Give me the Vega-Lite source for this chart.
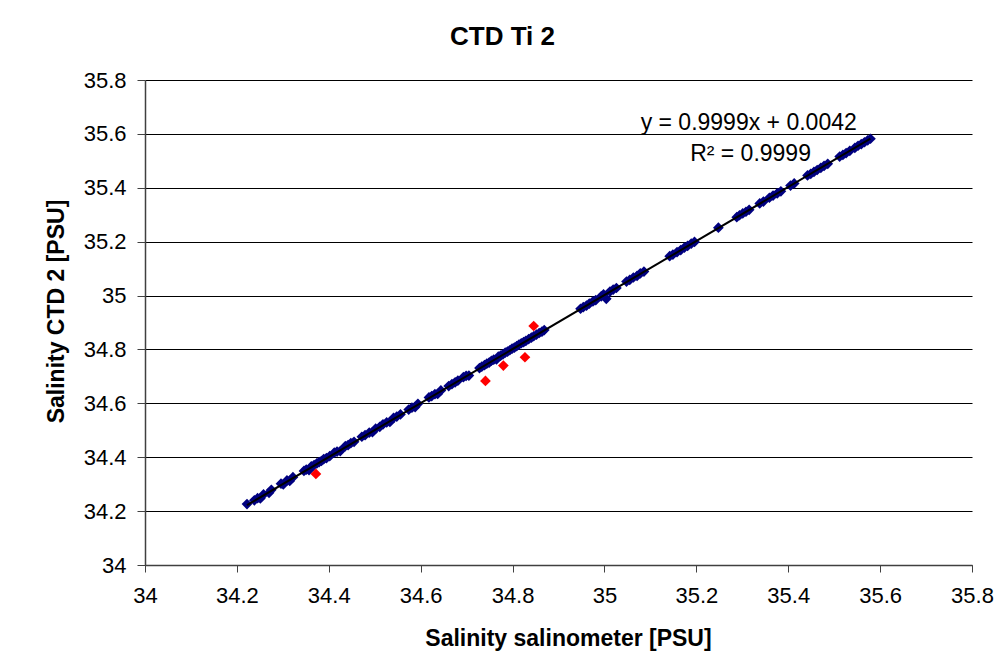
{
  "$schema": "https://vega.github.io/schema/vega-lite/v6.json",
  "autosize": {"type": "none"},
  "width": 827,
  "height": 485,
  "padding": {"left": 145, "top": 80, "right": 27, "bottom": 91},
  "background": "white",
  "config": {
    "view": {"stroke": null},
    "font": "Liberation Sans",
    "axis": {"labelFont": "Liberation Sans", "titleFont": "Liberation Sans", "labelColor": "black", "titleColor": "black"}
  },
  "title": {"text": "CTD Ti 2", "fontSize": 26, "fontWeight": "bold", "font": "Liberation Sans", "color": "black", "anchor": "middle", "dx": -56, "offset": 19},
  "datasets": {
    "pts": [
      {"sal": 34.222, "ctd": 34.226, "s": "a"},
      {"sal": 34.238, "ctd": 34.240, "s": "a"},
      {"sal": 34.245, "ctd": 34.248, "s": "a"},
      {"sal": 34.251, "ctd": 34.247, "s": "a"},
      {"sal": 34.258, "ctd": 34.262, "s": "a"},
      {"sal": 34.270, "ctd": 34.268, "s": "a"},
      {"sal": 34.275, "ctd": 34.279, "s": "a"},
      {"sal": 34.296, "ctd": 34.302, "s": "a"},
      {"sal": 34.301, "ctd": 34.299, "s": "a"},
      {"sal": 34.309, "ctd": 34.314, "s": "a"},
      {"sal": 34.315, "ctd": 34.312, "s": "a"},
      {"sal": 34.322, "ctd": 34.326, "s": "a"},
      {"sal": 34.346, "ctd": 34.349, "s": "a"},
      {"sal": 34.351, "ctd": 34.354, "s": "a"},
      {"sal": 34.357, "ctd": 34.352, "s": "a"},
      {"sal": 34.362, "ctd": 34.366, "s": "a"},
      {"sal": 34.368, "ctd": 34.371, "s": "a"},
      {"sal": 34.374, "ctd": 34.377, "s": "a"},
      {"sal": 34.379, "ctd": 34.382, "s": "a"},
      {"sal": 34.384, "ctd": 34.386, "s": "a"},
      {"sal": 34.389, "ctd": 34.393, "s": "a"},
      {"sal": 34.395, "ctd": 34.397, "s": "a"},
      {"sal": 34.402, "ctd": 34.404, "s": "a"},
      {"sal": 34.412, "ctd": 34.417, "s": "a"},
      {"sal": 34.418, "ctd": 34.421, "s": "a"},
      {"sal": 34.425, "ctd": 34.423, "s": "a"},
      {"sal": 34.436, "ctd": 34.441, "s": "a"},
      {"sal": 34.442, "ctd": 34.445, "s": "a"},
      {"sal": 34.448, "ctd": 34.452, "s": "a"},
      {"sal": 34.455, "ctd": 34.457, "s": "a"},
      {"sal": 34.472, "ctd": 34.476, "s": "a"},
      {"sal": 34.479, "ctd": 34.482, "s": "a"},
      {"sal": 34.488, "ctd": 34.491, "s": "a"},
      {"sal": 34.495, "ctd": 34.493, "s": "a"},
      {"sal": 34.502, "ctd": 34.506, "s": "a"},
      {"sal": 34.511, "ctd": 34.513, "s": "a"},
      {"sal": 34.518, "ctd": 34.522, "s": "a"},
      {"sal": 34.526, "ctd": 34.529, "s": "a"},
      {"sal": 34.533, "ctd": 34.531, "s": "a"},
      {"sal": 34.541, "ctd": 34.546, "s": "a"},
      {"sal": 34.548, "ctd": 34.551, "s": "a"},
      {"sal": 34.556, "ctd": 34.559, "s": "a"},
      {"sal": 34.574, "ctd": 34.577, "s": "a"},
      {"sal": 34.581, "ctd": 34.584, "s": "a"},
      {"sal": 34.588, "ctd": 34.586, "s": "a"},
      {"sal": 34.594, "ctd": 34.598, "s": "a"},
      {"sal": 34.618, "ctd": 34.622, "s": "a"},
      {"sal": 34.624, "ctd": 34.627, "s": "a"},
      {"sal": 34.631, "ctd": 34.634, "s": "a"},
      {"sal": 34.637, "ctd": 34.635, "s": "a"},
      {"sal": 34.644, "ctd": 34.648, "s": "a"},
      {"sal": 34.661, "ctd": 34.664, "s": "a"},
      {"sal": 34.668, "ctd": 34.671, "s": "a"},
      {"sal": 34.675, "ctd": 34.678, "s": "a"},
      {"sal": 34.681, "ctd": 34.684, "s": "a"},
      {"sal": 34.693, "ctd": 34.697, "s": "a"},
      {"sal": 34.699, "ctd": 34.702, "s": "a"},
      {"sal": 34.705, "ctd": 34.703, "s": "a"},
      {"sal": 34.728, "ctd": 34.731, "s": "a"},
      {"sal": 34.733, "ctd": 34.736, "s": "a"},
      {"sal": 34.739, "ctd": 34.742, "s": "a"},
      {"sal": 34.744, "ctd": 34.747, "s": "a"},
      {"sal": 34.749, "ctd": 34.751, "s": "a"},
      {"sal": 34.754, "ctd": 34.758, "s": "a"},
      {"sal": 34.759, "ctd": 34.762, "s": "a"},
      {"sal": 34.765, "ctd": 34.763, "s": "a"},
      {"sal": 34.769, "ctd": 34.773, "s": "a"},
      {"sal": 34.774, "ctd": 34.777, "s": "a"},
      {"sal": 34.779, "ctd": 34.782, "s": "a"},
      {"sal": 34.784, "ctd": 34.788, "s": "a"},
      {"sal": 34.789, "ctd": 34.792, "s": "a"},
      {"sal": 34.794, "ctd": 34.797, "s": "a"},
      {"sal": 34.799, "ctd": 34.803, "s": "a"},
      {"sal": 34.804, "ctd": 34.807, "s": "a"},
      {"sal": 34.809, "ctd": 34.812, "s": "a"},
      {"sal": 34.814, "ctd": 34.818, "s": "a"},
      {"sal": 34.819, "ctd": 34.823, "s": "a"},
      {"sal": 34.824, "ctd": 34.827, "s": "a"},
      {"sal": 34.829, "ctd": 34.832, "s": "a"},
      {"sal": 34.835, "ctd": 34.838, "s": "a"},
      {"sal": 34.841, "ctd": 34.844, "s": "a"},
      {"sal": 34.846, "ctd": 34.849, "s": "a"},
      {"sal": 34.852, "ctd": 34.855, "s": "a"},
      {"sal": 34.858, "ctd": 34.861, "s": "a"},
      {"sal": 34.864, "ctd": 34.866, "s": "a"},
      {"sal": 34.869, "ctd": 34.872, "s": "a"},
      {"sal": 34.948, "ctd": 34.951, "s": "a"},
      {"sal": 34.954, "ctd": 34.957, "s": "a"},
      {"sal": 34.961, "ctd": 34.963, "s": "a"},
      {"sal": 34.967, "ctd": 34.970, "s": "a"},
      {"sal": 34.975, "ctd": 34.978, "s": "a"},
      {"sal": 34.981, "ctd": 34.983, "s": "a"},
      {"sal": 34.993, "ctd": 34.997, "s": "a"},
      {"sal": 34.998, "ctd": 35.004, "s": "a"},
      {"sal": 35.004, "ctd": 34.988, "s": "a"},
      {"sal": 35.012, "ctd": 35.015, "s": "a"},
      {"sal": 35.019, "ctd": 35.022, "s": "a"},
      {"sal": 35.026, "ctd": 35.028, "s": "a"},
      {"sal": 35.048, "ctd": 35.052, "s": "a"},
      {"sal": 35.055, "ctd": 35.058, "s": "a"},
      {"sal": 35.063, "ctd": 35.067, "s": "a"},
      {"sal": 35.071, "ctd": 35.073, "s": "a"},
      {"sal": 35.078, "ctd": 35.082, "s": "a"},
      {"sal": 35.086, "ctd": 35.089, "s": "a"},
      {"sal": 35.142, "ctd": 35.146, "s": "a"},
      {"sal": 35.149, "ctd": 35.152, "s": "a"},
      {"sal": 35.158, "ctd": 35.161, "s": "a"},
      {"sal": 35.166, "ctd": 35.169, "s": "a"},
      {"sal": 35.174, "ctd": 35.178, "s": "a"},
      {"sal": 35.181, "ctd": 35.184, "s": "a"},
      {"sal": 35.189, "ctd": 35.193, "s": "a"},
      {"sal": 35.196, "ctd": 35.199, "s": "a"},
      {"sal": 35.248, "ctd": 35.252, "s": "a"},
      {"sal": 35.288, "ctd": 35.291, "s": "a"},
      {"sal": 35.294, "ctd": 35.298, "s": "a"},
      {"sal": 35.301, "ctd": 35.305, "s": "a"},
      {"sal": 35.308, "ctd": 35.311, "s": "a"},
      {"sal": 35.315, "ctd": 35.318, "s": "a"},
      {"sal": 35.338, "ctd": 35.342, "s": "a"},
      {"sal": 35.346, "ctd": 35.349, "s": "a"},
      {"sal": 35.359, "ctd": 35.363, "s": "a"},
      {"sal": 35.367, "ctd": 35.371, "s": "a"},
      {"sal": 35.376, "ctd": 35.379, "s": "a"},
      {"sal": 35.384, "ctd": 35.387, "s": "a"},
      {"sal": 35.405, "ctd": 35.408, "s": "a"},
      {"sal": 35.413, "ctd": 35.416, "s": "a"},
      {"sal": 35.442, "ctd": 35.446, "s": "a"},
      {"sal": 35.449, "ctd": 35.452, "s": "a"},
      {"sal": 35.456, "ctd": 35.459, "s": "a"},
      {"sal": 35.463, "ctd": 35.466, "s": "a"},
      {"sal": 35.471, "ctd": 35.474, "s": "a"},
      {"sal": 35.478, "ctd": 35.481, "s": "a"},
      {"sal": 35.486, "ctd": 35.489, "s": "a"},
      {"sal": 35.512, "ctd": 35.516, "s": "a"},
      {"sal": 35.519, "ctd": 35.522, "s": "a"},
      {"sal": 35.526, "ctd": 35.529, "s": "a"},
      {"sal": 35.534, "ctd": 35.537, "s": "a"},
      {"sal": 35.545, "ctd": 35.548, "s": "a"},
      {"sal": 35.552, "ctd": 35.556, "s": "a"},
      {"sal": 35.559, "ctd": 35.562, "s": "a"},
      {"sal": 35.566, "ctd": 35.569, "s": "a"},
      {"sal": 35.573, "ctd": 35.576, "s": "a"},
      {"sal": 35.579, "ctd": 35.582, "s": "a"},
      {"sal": 34.372, "ctd": 34.338, "s": "b"},
      {"sal": 34.741, "ctd": 34.683, "s": "b"},
      {"sal": 34.780, "ctd": 34.740, "s": "b"},
      {"sal": 34.827, "ctd": 34.771, "s": "b"},
      {"sal": 34.846, "ctd": 34.887, "s": "b"}
    ],
    "notes": [
      {"sal": 35.314, "ctd": 35.642, "label": "y = 0.9999x + 0.0042"},
      {"sal": 35.318, "ctd": 35.525, "label": "R² = 0.9999"}
    ]
  },
  "encoding": {
    "x": {
      "field": "sal", "type": "quantitative",
      "scale": {"domain": [34, 35.8], "nice": false, "zero": false},
      "axis": {
        "values": [34, 34.2, 34.4, 34.6, 34.8, 35, 35.2, 35.4, 35.6, 35.8],
        "format": "~g", "grid": false, "labelFlush": false, "labelOverlap": false,
        "domainColor": "#404040", "domainWidth": 1.5, "tickColor": "#404040", "tickSize": 7,
        "labelFontSize": 22, "labelPadding": 13,
        "title": "Salinity salinometer [PSU]", "titleFontSize": 23, "titleFontWeight": "bold",
        "titleX": 423, "titleY": 73, "titleBaseline": "middle", "titleAnchor": null
      }
    },
    "y": {
      "field": "ctd", "type": "quantitative",
      "scale": {"domain": [34, 35.8], "nice": false, "zero": false},
      "axis": {
        "values": [34, 34.2, 34.4, 34.6, 34.8, 35, 35.2, 35.4, 35.6, 35.8],
        "format": "~g", "grid": true, "gridColor": "black", "gridWidth": 1, "gridOpacity": 1,
        "labelFlush": false, "labelOverlap": false,
        "domainColor": "#404040", "domainWidth": 1.5, "tickColor": "#404040", "tickSize": 8,
        "labelFontSize": 22, "labelPadding": 11,
        "title": "Salinity CTD 2 [PSU]", "titleFontSize": 23, "titleFontWeight": "bold",
        "titleX": -89, "titleY": 231, "titleBaseline": "middle", "titleAngle": -90
      }
    }
  },
  "layer": [
    {
      "data": {"name": "pts"},
      "mark": {"type": "point", "shape": "diamond", "filled": true, "size": 115, "opacity": 1},
      "encoding": {
        "color": {
          "field": "s", "type": "nominal",
          "scale": {"domain": ["a", "b"], "range": ["#000080", "#FF0000"]},
          "legend": null
        },
        "order": {"field": "s", "type": "nominal"}
      }
    },
    {
      "data": {"name": "pts"},
      "transform": [
        {"regression": "ctd", "on": "sal", "extent": [34.222, 35.579]}
      ],
      "mark": {"type": "line", "color": "black", "strokeWidth": 2},
      "encoding": {}
    },
    {
      "data": {"name": "notes"},
      "mark": {"type": "text", "fontSize": 23, "font": "Liberation Sans", "color": "black", "align": "center", "baseline": "middle"},
      "encoding": {"text": {"field": "label"}}
    }
  ]
}
